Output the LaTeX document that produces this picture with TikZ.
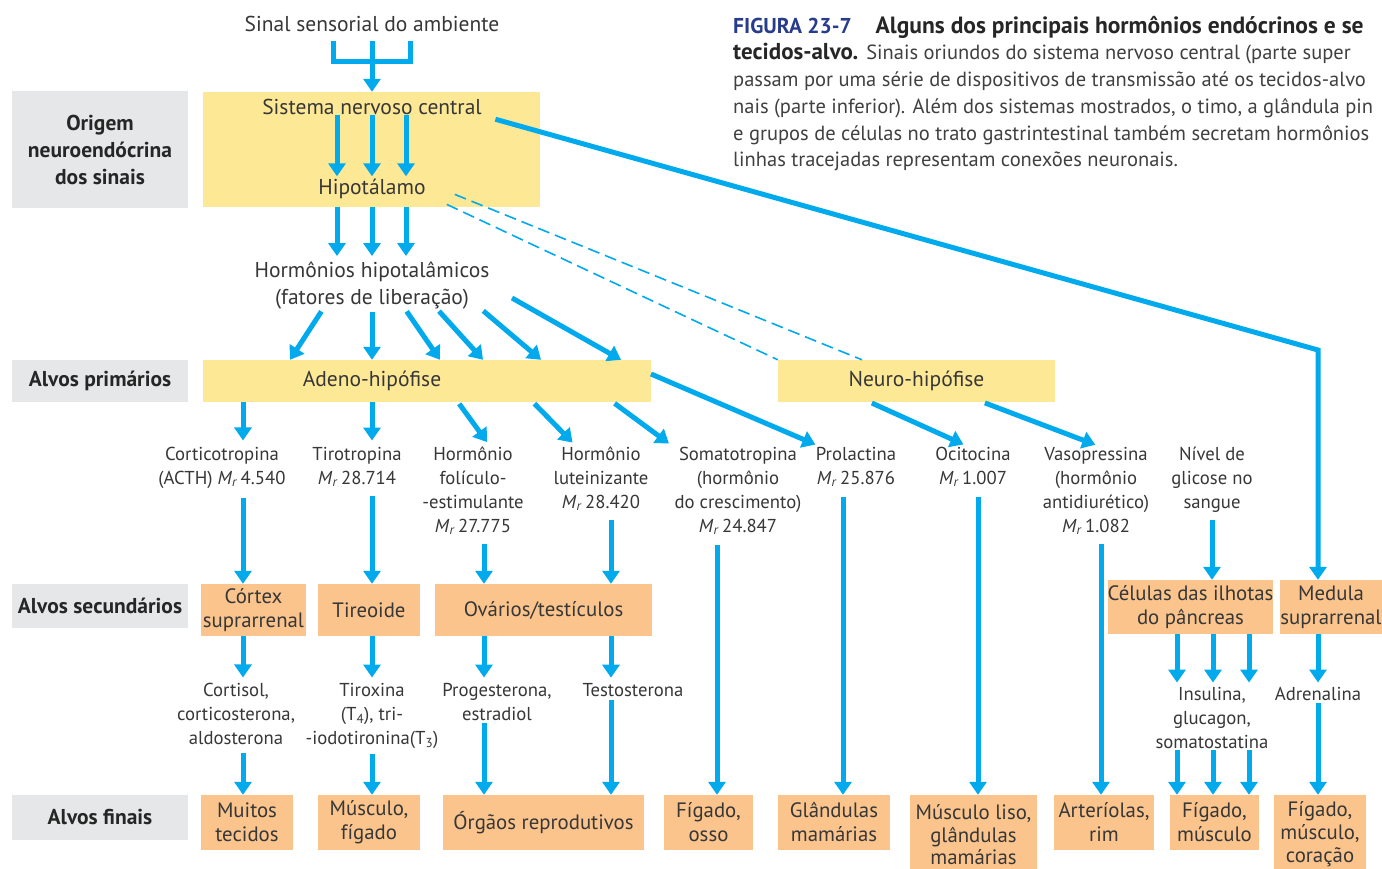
\documentclass[tikz,border=0pt]{standalone}
\usepackage{fontspec}
\setmainfont{PT Sans}
\usetikzlibrary{arrows.meta,calc}
\definecolor{arrowblue}{RGB}{0,170,236}
\definecolor{ylw}{RGB}{253,232,150}
\definecolor{org}{RGB}{250,196,140}
\definecolor{gry}{RGB}{230,231,232}
\definecolor{txtc}{RGB}{55,55,55}
\definecolor{figblue}{RGB}{40,60,140}
\newcommand{\Mr}{\textit{M}\textsubscript{\textit{r}}\,}
\begin{document}
\begin{tikzpicture}[x=1pt,y=-1pt,
  every node/.style={text=txtc, font=\fontsize{18.7}{24}\selectfont, inner sep=0pt, align=center},
  lblbox/.style={fill=gry, minimum width=176pt, font=\bfseries\fontsize{21.5}{27}\selectfont, text=black!85},
  ybox/.style={fill=ylw},
  obox/.style={fill=org, font=\fontsize{20.8}{24}\selectfont},
  big/.style={font=\fontsize{21.5}{27}\selectfont},
  capt/.style={anchor=base west, font=\fontsize{20.5}{27}\selectfont, text=black!75},
  captb/.style={font=\bfseries\fontsize{23.5}{27}\selectfont, text=black!85},
  arr/.style={draw=arrowblue, line width=5pt, line join=miter, -{Triangle[width=17pt,length=13pt]}},
  bline/.style={draw=arrowblue, line width=5pt, line join=miter},
  dline/.style={draw=arrowblue, line width=1.6pt, dash pattern=on 12pt off 6pt},
]
\useasboundingbox[fill=white] (0,0) rectangle (1382,869);

% ---------- caption ----------
\node[capt] (cap1) at (733,34) {{\color{figblue}\bfseries\fontsize{21.5}{27}\selectfont FIGURA 23-7}\hspace{24pt}{\bfseries\fontsize{23.5}{27}\selectfont\color{black!85}Alguns dos principais hormônios endócrinos e se}};
\node[capt] (cap2) at (733,60) {{\bfseries\fontsize{23}{27}\selectfont\color{black!85}tecidos-alvo.}\hspace{8pt}Sinais oriundos do sistema nervoso central (parte super};
\node[capt] (cap3) at (733,87) {passam por uma série de dispositivos de transmissão até os tecidos-alvo};
\node[capt] (cap4) at (733,114) {nais (parte inferior). Além dos sistemas mostrados, o timo, a glândula pin};
\node[capt] (cap5) at (733,141) {e grupos de células no trato gastrintestinal também secretam hormônios};
\node[capt] (cap6) at (733,167) {linhas tracejadas representam conexões neuronais.};

% ---------- row labels ----------
\node[lblbox, minimum height=117pt] (lorig) at (100,149.5) {Origem\\neuroendócrina\\dos sinais};
\node[lblbox, minimum height=42pt] (lprim) at (100,381) {Alvos primários};
\node[lblbox, minimum height=44pt] (lsec) at (100,606) {Alvos secundários};
\node[lblbox, minimum height=45pt] (lfin) at (100,817.5) {Alvos finais};

% ---------- top ----------
\node[big, anchor=base] (sinal) at (372,32) {Sinal sensorial do ambiente};
\coordinate (b1) at (333,41);
\coordinate (b2) at (372,41);
\coordinate (b3) at (410,41);
\coordinate (brk) at (372,62);
\draw[bline] (b1) |- (brk) -| (b3);
\draw[bline] (b2) -- (brk);

\node[ybox, minimum width=337pt, minimum height=115pt] (cnsbox) at (371.5,149.5) {};
\draw[arr] (brk) -- (cnsbox.north -| brk);
\node[big, anchor=base] (snc) at (372,115) {Sistema nervoso central};
\node[big, anchor=base] (hipo) at (372,195) {Hipotálamo};
\foreach \x in {337,372,406}{
  \draw[arr, shorten >=3pt] (snc.south -| \x,0) -- (hipo.north -| \x,0);
}
\node[big, anchor=base] (hh) at (372,304) {Hormônios hipotalâmicos\\(fatores de liberação)};
\foreach \x in {337,372,406}{
  \draw[arr, shorten >=5pt] (cnsbox.south -| \x,0) -- (hh.north -| \x,0);
}

% ---------- primary targets ----------
\node[ybox, minimum width=448pt, minimum height=42pt] (adeno) at (427,381) {};
\node[big] (adenot) at (372,381) {Adeno-hipófise};
\node[ybox, big, minimum width=277pt, minimum height=42pt] (neuro) at (916.5,381) {Neuro-hipófise};

\draw[arr, shorten <=3pt] (hh.south -| 323,0) -- (adeno.north -| 290,0);
\draw[arr, shorten <=3pt] (hh.south -| 372,0) -- (adeno.north -| 372,0);
\draw[arr, shorten <=3pt] (hh.south -| 405,0) -- (adeno.north -| 440,0);
\draw[arr, shorten <=3pt] (hh.south -| 437,0) -- (adeno.north -| 483,0);
\draw[arr, shorten <=3pt] (hh.south -| 481,0) -- (adeno.north -| 541,0);
\coordinate (h6) at (512,298);
\draw[arr] (h6) -- (adeno.north -| 621,0);

% dashed neuronal connections
\draw[dline] ($(hipo.east)+(29,5)$) -- (neuro.north -| 862,0);
\draw[dline] ($(hipo.east)+(21,15)$) -- (neuro.north west);

\coordinate (bend) at (1318,350);
\coordinate (adenoR) at (651,374);

% ---------- hormones row (base = last line baseline) ----------
\node[anchor=base] (cortico) at (222,484) {Corticotropina\\(ACTH) \Mr 4.540};
\node[anchor=base] (tiro) at (357,484) {Tirotropina\\\Mr 28.714};
\node[anchor=base] (fsh) at (473,532) {Hormônio\\folículo-\\-estimulante\\\Mr 27.775};
\node[anchor=base] (lh) at (601,508) {Hormônio\\luteinizante\\\Mr 28.420};
\node[anchor=base] (somato) at (738,532) {Somatotropina\\(hormônio\\do crescimento)\\\Mr 24.847};
\node[anchor=base] (prol) at (856,484) {Prolactina\\\Mr 25.876};
\node[anchor=base] (ocit) at (973,484) {Ocitocina\\\Mr 1.007};
\node[anchor=base] (vaso) at (1096,532) {Vasopressina\\(hormônio\\antidiurético)\\\Mr 1.082};
\node[anchor=base] (glic) at (1212,508) {Nível de\\glicose no\\sangue};

\draw[arr, shorten >=6pt] (adeno.south -| 243,0) -- (cortico.north -| 243,0);
\draw[arr, shorten >=6pt] (adeno.south -| 372,0) -- (tiro.north -| 372,0);
\draw[arr, shorten >=5pt, shorten <=2pt] (adeno.south -| 458,0) -- (fsh.north -| 490,0);
\draw[arr, shorten >=5pt, shorten <=2pt] (adeno.south -| 533,0) -- (lh.north -| 576,0);
\draw[arr, shorten >=5pt, shorten <=2pt] (adeno.south -| 613,0) -- (somato.north -| 673,0);
\draw[arr, shorten >=5pt] (adenoR) -- (prol.north -| 820,0);
\draw[arr, shorten >=5pt, shorten <=2pt] (neuro.south -| 870,0) -- (ocit.north -| 968,0);
\draw[arr, shorten >=5pt, shorten <=2pt] (neuro.south -| 983,0) -- (vaso.north -| 1100,0);

% ---------- secondary targets ----------
\node[obox, minimum width=105pt, minimum height=52pt] (cortex) at (253.5,610) {Córtex\\suprarrenal};
\node[obox, minimum width=102pt, minimum height=52pt] (tireoide) at (369,610) {Tireoide};
\node[obox, minimum width=217pt, minimum height=52pt] (ovarios) at (543.5,610) {Ovários/testículos};
\node[obox, minimum width=163pt, minimum height=54pt] (ilhotas) at (1190.5,607) {Células das ilhotas\\do pâncreas};
\node[obox, minimum width=102pt, minimum height=54pt] (medula) at (1331,607) {Medula\\suprarrenal};

\draw[arr, shorten <=14pt] (snc.south east) -- (bend) -- (medula.north -| bend);

\draw[arr, shorten <=10pt] (cortico.south -| 243,0) -- (cortex.north -| 243,0);
\draw[arr, shorten <=9pt] (tiro.south -| 372,0) -- (tireoide.north -| 372,0);
\draw[arr, shorten <=9pt] (fsh.south -| 484,0) -- (ovarios.north -| 484,0);
\draw[arr, shorten <=9pt] (lh.south -| 611,0) -- (ovarios.north -| 611,0);
\draw[arr, shorten <=8pt] (glic.south -| 1212,0) -- (ilhotas.north -| 1212,0);

% ---------- secondary hormones ----------
\node[anchor=base] (cortisol) at (236,744) {Cortisol,\\corticosterona,\\aldosterona};
\node[anchor=base] (tirox) at (372,744) {Tiroxina\\(T\textsubscript{4}), tri-\\-iodotironina(T\textsubscript{3})};
\node[anchor=base] (prog) at (497,720) {Progesterona,\\estradiol};
\node[anchor=base] (testo) at (633,696) {Testosterona};
\node[anchor=base] (insul) at (1212,748) {Insulina,\\glucagon,\\somatostatina};
\node[anchor=base] (adren) at (1318,700) {Adrenalina};

\draw[arr, shorten >=5pt] (cortex.south -| 243,0) -- (cortisol.north -| 243,0);
\draw[arr, shorten >=5pt] (tireoide.south -| 372,0) -- (tirox.north -| 372,0);
\draw[arr, shorten >=5pt] (ovarios.south -| 484,0) -- (prog.north -| 484,0);
\draw[arr, shorten >=5pt] (ovarios.south -| 611,0) -- (testo.north -| 611,0);
\foreach \x in {1177,1213,1249}{
  \draw[arr, shorten >=4pt] (ilhotas.south -| \x,0) -- (insul.north -| \x,0);
}
\draw[arr, shorten >=4pt] (medula.south -| 1318,0) -- (adren.north -| 1318,0);

% ---------- final targets ----------
\node[obox, minimum width=92pt, minimum height=55pt] (muitos) at (247,822.5) {Muitos\\tecidos};
\node[obox, minimum width=102pt, minimum height=55pt] (muscfig) at (369,822.5) {Músculo,\\fígado};
\node[obox, minimum width=201pt, minimum height=55pt] (orgaos) at (543.5,822.5) {Órgãos reprodutivos};
\node[obox, minimum width=89pt, minimum height=55pt] (figosso) at (708.5,822.5) {Fígado,\\osso};
\node[obox, minimum width=112pt, minimum height=55pt] (glandulas) at (834,822.5) {Glândulas\\mamárias};
\node[obox, minimum width=127pt, minimum height=80pt, font=\fontsize{20.8}{22.5}\selectfont] (musliso) at (973.5,835) {Músculo liso,\\glândulas\\mamárias};
\node[obox, minimum width=100pt, minimum height=55pt] (arteriolas) at (1104,822.5) {Arteríolas,\\rim};
\node[obox, minimum width=89pt, minimum height=55pt] (figmusc) at (1214.5,822.5) {Fígado,\\músculo};
\node[obox, minimum width=92pt, minimum height=78pt, font=\fontsize{20.8}{23}\selectfont] (figmuscor) at (1320,834) {Fígado,\\músculo,\\coração};

\draw[arr, shorten <=9pt] (cortisol.south -| 243,0) -- (muitos.north -| 243,0);
\draw[arr, shorten <=6pt] (tirox.south -| 372,0) -- (muscfig.north -| 372,0);
\draw[arr, shorten <=3pt] (prog.south -| 484,0) -- (orgaos.north -| 484,0);
\draw[arr, shorten <=4pt] (testo.south -| 611,0) -- (orgaos.north -| 611,0);
\draw[arr, shorten <=10pt] (somato.south -| 717,0) -- (figosso.north -| 717,0);
\draw[arr, shorten <=10pt] (prol.south -| 843,0) -- (glandulas.north -| 843,0);
\draw[arr, shorten <=10pt] (ocit.south -| 978,0) -- (musliso.north -| 978,0);
\draw[arr, shorten <=9pt] (vaso.south -| 1101,0) -- (arteriolas.north -| 1101,0);
\foreach \x in {1177,1213,1249}{
  \draw[arr, shorten <=2pt] (insul.south -| \x,0) -- (figmusc.north -| \x,0);
}
\draw[arr, shorten <=3pt] (adren.south -| 1318,0) -- (figmuscor.north -| 1318,0);
\end{tikzpicture}
\end{document}
